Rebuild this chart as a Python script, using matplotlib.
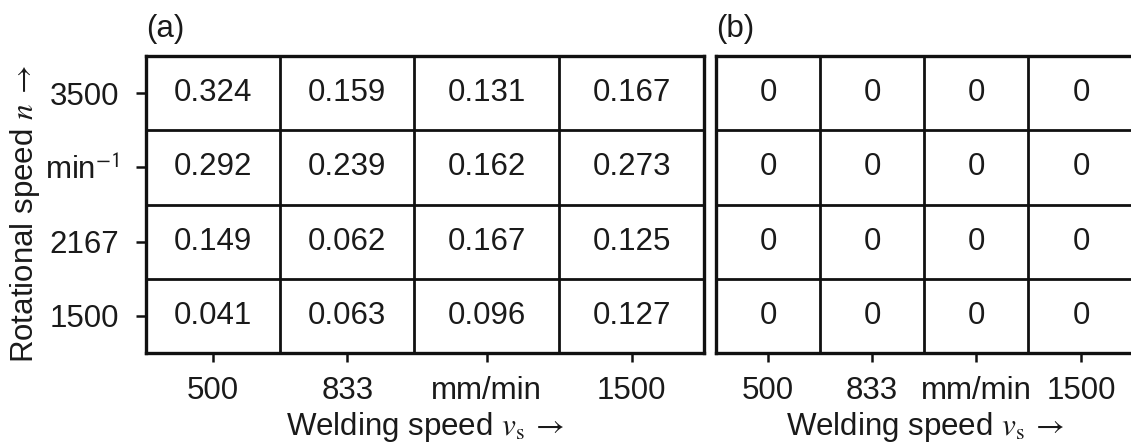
import numpy as np
import matplotlib
matplotlib.use("Agg")
import matplotlib.pyplot as plt

plt.rcParams["font.family"] = ["Liberation Sans", "DejaVu Sans"]
plt.rcParams["mathtext.fontset"] = "stix"

# Process parameters
welding_speed_labels = ["500", "833", "mm/min", "1500"]
rotational_speed_labels = ["3500", r"min$^{\mathsf{-1}}$", "2167", "1500"]  # top to bottom

# Panel (a) values, rows top to bottom (3500 ... 1500), columns 500 ... 1500
values_a = [
    [0.324, 0.159, 0.131, 0.167],
    [0.292, 0.239, 0.162, 0.273],
    [0.149, 0.062, 0.167, 0.125],
    [0.041, 0.063, 0.096, 0.127],
]
# Panel (b) values
values_b = [
    [0, 0, 0, 0],
    [0, 0, 0, 0],
    [0, 0, 0, 0],
    [0, 0, 0, 0],
]

W, H = 1131, 443
FS = 22.5
INK = "#1a1a1a"
fig = plt.figure(figsize=(W / 100, H / 100), dpi=100)


def px_axes(left, top, right, bottom):
    return fig.add_axes([left / W, 1 - bottom / H, (right - left) / W, (bottom - top) / H])


def draw_grid(ax, vals, col_widths, show_yticks, tag):
    vals = np.asarray(vals, dtype=float)
    nrows, ncols = vals.shape
    edges = np.concatenate([[0], np.cumsum(col_widths)])
    centers = (edges[:-1] + edges[1:]) / 2
    ax.set_xlim(edges[0], edges[-1])
    ax.set_ylim(0, nrows)
    for x in edges[1:-1]:
        ax.axvline(x, color="#111111", lw=2.0)
    for y in range(1, nrows):
        ax.axhline(y, color="#111111", lw=2.0)
    for i in range(nrows):
        for j in range(ncols):
            v = vals[i, j]
            txt = f"{v:.3f}" if v != 0 else "0"
            ax.text(centers[j], nrows - i - 0.5, txt, ha="center", va="center",
                    fontsize=FS, color=INK)
    for s in ax.spines.values():
        s.set_linewidth(2.4)
        s.set_color("#111111")
    ax.set_xticks(centers)
    ax.set_xticklabels(welding_speed_labels)
    ax.tick_params(axis="x", direction="out", length=6.5, width=1.8, pad=10,
                   labelsize=FS, colors="#111111", labelcolor=INK)
    if show_yticks:
        ax.set_yticks(np.arange(nrows) + 0.5)
        ax.set_yticklabels(rotational_speed_labels[::-1])
        ax.tick_params(axis="y", direction="out", length=7, width=1.8, pad=12,
                       labelsize=FS, colors="#111111", labelcolor=INK)
    else:
        ax.set_yticks([])
    ax.set_xlabel(r"Welding speed $v_\mathrm{s}\;\rightarrow$", fontsize=FS,
                  labelpad=3, color=INK)
    ax.text(0, 1.04, tag, transform=ax.transAxes, ha="left", va="bottom",
            fontsize=FS, color=INK)


ax_a = px_axes(146, 56, 704, 353)
draw_grid(ax_a, values_a, [1, 1, 1.08, 1.08], True, "(a)")
ax_a.set_ylabel(r"Rotational speed $n\;\rightarrow$", fontsize=FS, color=INK)
ax_a.yaxis.set_label_coords(-104 / 558, 0.47)

ax_b = px_axes(716, 56, 1134, 353)
draw_grid(ax_b, values_b, [1, 1, 1, 1.02], False, "(b)")

fig.savefig("out.png", dpi=100)
